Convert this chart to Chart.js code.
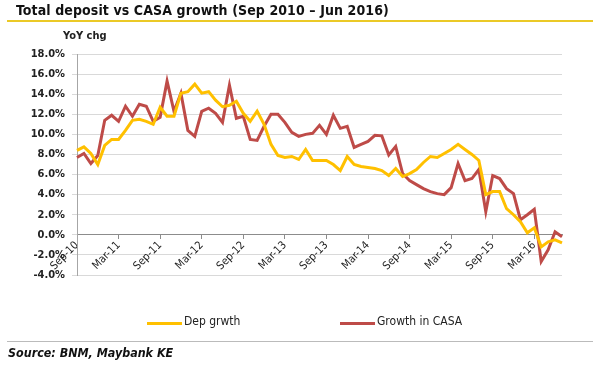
<!DOCTYPE html>
<html><head><meta charset="utf-8">
<script src="https://cdn.jsdelivr.net/npm/chart.js@4.4.1/dist/chart.umd.min.js"></script>
<style>
html,body{margin:0;padding:0;background:#fff;}
#wrap{position:relative;width:606px;height:366px;overflow:hidden;font-family:"DejaVu Sans Condensed","DejaVu Sans",sans-serif;}
#c{position:absolute;left:0;top:0;}
.title{position:absolute;left:16px;top:2px;font-weight:bold;font-size:14px;letter-spacing:0.1px;color:#111;white-space:nowrap;}
.uline{position:absolute;left:7px;top:20px;width:586px;height:2px;background:#EBC926;}
.yoy{position:absolute;left:63px;top:29px;font-weight:bold;font-size:11px;color:#222;}
.leg{position:absolute;top:314px;font-size:12px;color:#222;white-space:nowrap;}
.sw{position:absolute;top:8px;width:35px;height:3px;}
.sep{position:absolute;left:7px;top:341px;width:586px;height:1px;background:#bbb;}
.src{position:absolute;left:8px;top:345px;font-size:12.4px;font-weight:bold;font-style:italic;color:#111;white-space:nowrap;}
</style>
</head><body>
<div id="wrap">
<canvas id="c" width="606" height="366"></canvas>
<div class="title">Total deposit vs CASA growth (Sep 2010 – Jun 2016)</div>
<div class="uline"></div>
<div class="yoy">YoY chg</div>
<div class="leg" style="left:147px;"><span class="sw" style="left:0;background:#FFC000;"></span><span style="position:absolute;left:37px;top:0;">Dep grwth</span></div>
<div class="leg" style="left:340px;"><span class="sw" style="left:0;background:#BE4B48;"></span><span style="position:absolute;left:37px;top:0;">Growth in CASA</span></div>
<div class="sep"></div>
<div class="src">Source: BNM, Maybank KE</div>
</div>
<script>
const categories = [
 'Sep-10','Oct-10','Nov-10','Dec-10',
 'Jan-11','Feb-11','Mar-11','Apr-11','May-11','Jun-11','Jul-11','Aug-11','Sep-11','Oct-11','Nov-11','Dec-11',
 'Jan-12','Feb-12','Mar-12','Apr-12','May-12','Jun-12','Jul-12','Aug-12','Sep-12','Oct-12','Nov-12','Dec-12',
 'Jan-13','Feb-13','Mar-13','Apr-13','May-13','Jun-13','Jul-13','Aug-13','Sep-13','Oct-13','Nov-13','Dec-13',
 'Jan-14','Feb-14','Mar-14','Apr-14','May-14','Jun-14','Jul-14','Aug-14','Sep-14','Oct-14','Nov-14','Dec-14',
 'Jan-15','Feb-15','Mar-15','Apr-15','May-15','Jun-15','Jul-15','Aug-15','Sep-15','Oct-15','Nov-15','Dec-15',
 'Jan-16','Feb-16','Mar-16','Apr-16','May-16','Jun-16','Jul-16'
];
const tickLabels = ['Sep-10','Mar-11','Sep-11','Mar-12','Sep-12','Mar-13','Sep-13','Mar-14','Sep-14','Mar-15','Sep-15','Mar-16'];
const depGrowth = [
 8.4, 8.75, 8.1, 7.0,
 8.9, 9.5, 9.5, 10.4, 11.4, 11.5, 11.3, 11.0, 12.7, 11.8, 11.8, 14.1,
 14.25, 15.0, 14.1, 14.25, 13.4, 12.75, 12.9, 13.3, 12.1, 11.3, 12.3, 11.0,
 9.0, 7.9, 7.7, 7.8, 7.5, 8.5, 7.4, 7.4, 7.4, 7.0, 6.4, 7.8,
 7.0, 6.8, 6.7, 6.6, 6.4, 5.9, 6.6, 5.8, 6.1, 6.5, 7.2, 7.8,
 7.7, 8.1, 8.5, 9.0, 8.5, 8.0, 7.4, 4.0, 4.3, 4.3, 2.6, 2.0,
 1.3, 0.2, 0.7, -1.2, -0.7, -0.5, -0.8
];
const casaGrowth = [
 7.7, 8.1, 7.1, 7.9,
 11.4, 11.9, 11.3, 12.8, 11.8, 13.0, 12.8, 11.3, 11.7, 15.3, 12.3, 14.1,
 10.4, 9.8, 12.3, 12.6, 12.1, 11.2, 14.9, 11.6, 11.8, 9.5, 9.4, 10.8,
 12.0, 12.0, 11.2, 10.2, 9.8, 10.0, 10.1, 10.9, 10.0, 11.9, 10.6, 10.8,
 8.7, 9.0, 9.3, 9.9, 9.85, 7.95, 8.8, 6.1, 5.4, 5.0, 4.6, 4.3,
 4.1, 4.0, 4.7, 7.1, 5.4, 5.6, 6.5, 2.3, 5.9, 5.6, 4.6, 4.1,
 1.5, 2.0, 2.55, -2.65, -1.5, 0.3, -0.2
];
const yMin = -4, yMax = 18, yStep = 2;

const FONT = '"DejaVu Sans Condensed","DejaVu Sans",sans-serif';
new Chart(document.getElementById('c'), {
  type: 'line',
  data: {
    labels: categories,
    datasets: [
      {label:'Dep grwth', data: depGrowth, borderColor:'#FFC000', borderWidth:3, pointRadius:0, tension:0, fill:false},
      {label:'Growth in CASA', data: casaGrowth, borderColor:'#BE4B48', borderWidth:3, pointRadius:0, tension:0, fill:false}
    ]
  },
  options: {
    responsive:false, animation:false,
    layout:{padding:{left:0, top:54, right:44, bottom:91}},
    plugins:{legend:{display:false}, tooltip:{enabled:false}},
    scales:{
      x:{
        type:'category',
        position:{y:0},
        offset:false,
        afterBuildTicks:(s)=>{ s.ticks = s.ticks.filter(t => tickLabels.includes(categories[t.value])); },
        grid:{drawOnChartArea:false, drawTicks:true, tickLength:4, color:'#8c8c8c'},
        border:{color:'#8c8c8c', width:1},
        ticks:{autoSkip:false, minRotation:45, maxRotation:45, padding:0, color:'#222',
               font:{family:FONT, size:11},
               callback:function(v){ return categories[v]; }}
      },
      y:{
        min:yMin, max:yMax,
        afterFit:(s)=>{ s.width = 77; },
        grid:{color:'#d9d9d9', tickLength:5, drawTicks:true},
        border:{color:'#a6a6a6'},
        ticks:{stepSize:yStep, padding:7, color:'#222', font:{family:FONT, size:11, weight:'bold'},
               callback:(v)=> v.toFixed(1)+'%'}
      }
    }
  }
});
</script>
</body></html>
